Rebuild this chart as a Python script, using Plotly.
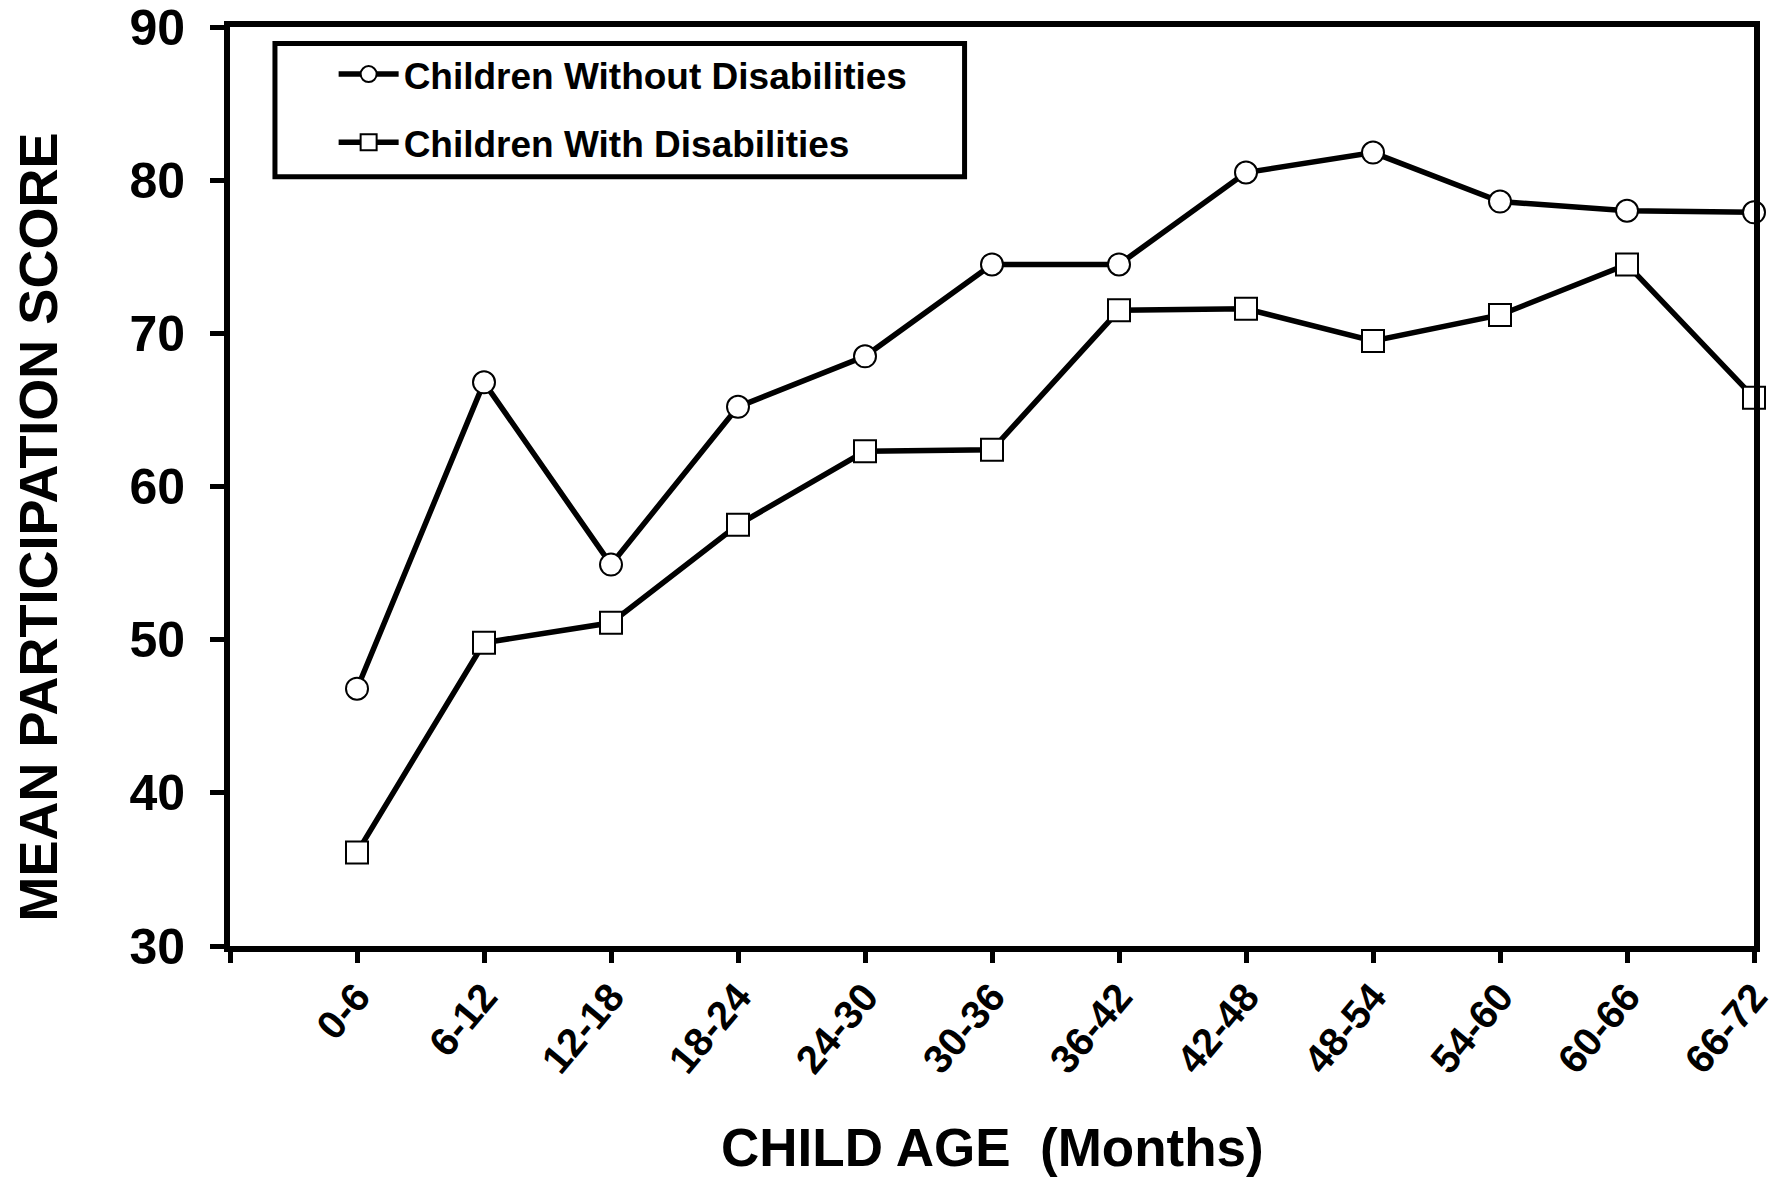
import plotly.graph_objects as go

categories = ["0-6", "6-12", "12-18", "18-24", "24-30", "30-36",
              "36-42", "42-48", "48-54", "54-60", "60-66", "66-72"]
without_dis = [46.8, 66.8, 54.9, 65.2, 68.5, 74.5, 74.5, 80.5, 81.8, 78.6, 78.0, 77.9]
with_dis = [36.1, 49.8, 51.1, 57.5, 62.3, 62.4, 71.5, 71.6, 69.5, 71.2, 74.5, 65.8]
y_ticks = [30, 40, 50, 60, 70, 80, 90]

xpos = list(range(len(categories)))
FONT = "Liberation Sans, Arial, sans-serif"

fig = go.Figure()
fig.add_trace(go.Scatter(
    x=xpos, y=without_dis, mode="lines+markers", name="Children Without Disabilities",
    legendgroup="a",
    line=dict(color="black", width=5.5),
    marker=dict(symbol="circle", size=22, color="white", line=dict(color="black", width=2)),
    cliponaxis=False,
))
fig.add_trace(go.Scatter(
    x=xpos, y=with_dis, mode="lines+markers", name="Children With Disabilities",
    legendgroup="b",
    line=dict(color="black", width=5.5),
    marker=dict(symbol="square", size=22, color="white", line=dict(color="black", width=2)),
    cliponaxis=False,
))

fig.update_layout(
    width=1781, height=1182,
    margin=dict(l=222, r=35, t=19, b=244, autoexpand=False),
    paper_bgcolor="white", plot_bgcolor="white",
    font=dict(family=FONT, color="black"),
    showlegend=True,
    legend=dict(
        x=0.068, y=0.982, xanchor="left", yanchor="top",
        bgcolor="rgba(0,0,0,0)", borderwidth=0,
        font=dict(family=FONT, size=37, color="black", weight="bold"),
        tracegroupgap=17, itemwidth=60,
    ),
    xaxis=dict(
        range=[-1, 11], showgrid=False, zeroline=False, automargin=False,
        showline=True, linecolor="black", linewidth=6, mirror=True,
        ticks="outside", ticklen=11, tickwidth=5, tickcolor="black",
        tickvals=[-1] + xpos, ticktext=[""] + categories,
        tickangle=-50, ticklabelstandoff=-6, ticklabeloverflow="allow",
        tickfont=dict(family=FONT, size=40, color="black", weight="bold"),
    ),
    yaxis=dict(
        range=[30, 90], showgrid=False, zeroline=False, automargin=False,
        showline=True, linecolor="black", linewidth=6, mirror=True,
        ticks="outside", ticklen=14, tickwidth=5, tickcolor="black",
        tickvals=y_ticks, ticklabelstandoff=15, ticklabeloverflow="allow",
        tickfont=dict(family=FONT, size=50, color="black", weight="bold"),
    ),
    shapes=[dict(
        type="rect", xref="paper", yref="paper",
        x0=0.0295, x1=0.482, y0=0.837, y1=0.982,
        line=dict(color="black", width=5), fillcolor="rgba(0,0,0,0)",
    )],
    annotations=[
        dict(text="CHILD AGE  (Months)", xref="paper", yref="paper",
             x=0.5, y=-0.2198, xanchor="center", yanchor="middle", showarrow=False,
             font=dict(family=FONT, size=53, color="black", weight="bold")),
        dict(text="MEAN PARTICIPATION SCORE", xref="paper", yref="paper",
             x=-0.1262, y=0.456, xanchor="center", yanchor="middle", showarrow=False,
             textangle=-90,
             font=dict(family=FONT, size=54, color="black", weight="bold")),
    ],
)

fig.write_html("out.html")
